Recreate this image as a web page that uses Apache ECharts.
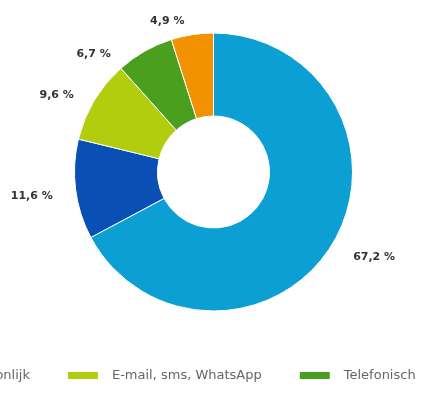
<!DOCTYPE html>
<html>
<head>
<meta charset="utf-8">
<script src="https://cdn.jsdelivr.net/npm/echarts@6/dist/echarts.min.js"></script>
<style>
  html, body { margin: 0; padding: 0; background: #fff; }
  #chart { width: 422px; height: 410px; }
</style>
</head>
<body>
<div id="chart"></div>
<script>
const categories = ['Online', 'Persoonlijk', 'E-mail, sms, WhatsApp', 'Telefonisch', 'Per post']
const values = [67.2, 11.6, 9.6, 6.7, 4.9]
const colors = ['#0c9fd3', '#0a4fb4', '#b2cc0e', '#4b9f1e', '#f39200']

const chart = echarts.init(document.getElementById('chart'))

chart.setOption({
  animation: false,
  color: colors,
  legend: {
    data: categories,
    left: -215,
    top: 364,
    width: 900,
    orient: 'horizontal',
    itemWidth: 32,
    itemHeight: 9,
    itemGap: 36,
    icon: 'rect',
    textStyle: {
      fontFamily: 'DejaVu Sans',
      fontSize: 13,
      color: '#666',
      padding: [0, 0, 0, 8],
    },
  },
  series: [
    {
      type: 'pie',
      center: [213.5, 172],
      radius: [56, 139],
      startAngle: 90,
      clockwise: true,
      avoidLabelOverlap: false,
      itemStyle: { borderColor: '#fff', borderWidth: 1 },
      label: {
        show: true,
        position: 'outside',
        fontFamily: 'DejaVu Sans',
        fontSize: 11,
        fontWeight: 'bold',
        color: '#333',
        formatter: (p) => p.value.toFixed(1).replace('.', ',') + ' %',
      },
      labelLine: { show: false, length: 18, length2: 0 },
      // labels sit a little lower in the source; the green one also further left
      labelLayout: (p) => (p.dataIndex === 3 ? { dx: -20, dy: 19 } : { dy: 4 }),
      emphasis: { disabled: true },
      data: categories.map((name, i) => ({ name, value: values[i] })),
    },
  ],
})
</script>
</body>
</html>
